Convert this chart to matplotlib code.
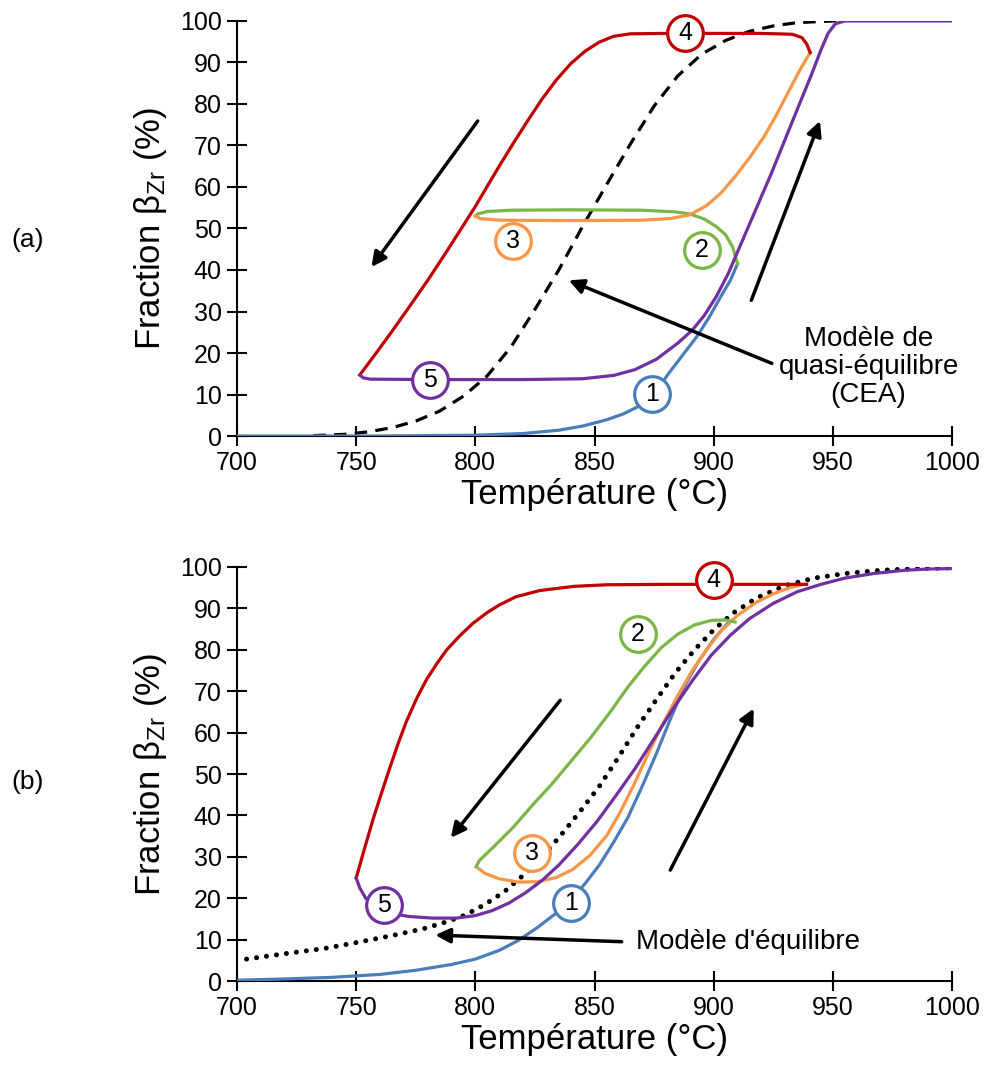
import numpy as np
import matplotlib
matplotlib.use("Agg")
import matplotlib.pyplot as plt

plt.rcParams['font.family'] = ['Liberation Sans', 'DejaVu Sans']
plt.rcParams['mathtext.fontset'] = 'custom'
plt.rcParams['mathtext.rm'] = 'Liberation Sans'
plt.rcParams['mathtext.it'] = 'Liberation Sans'

BLUE = "#4A7EBB"
GREEN = "#7AB648"
ORANGE = "#F79646"
RED = "#C00000"
PURPLE = "#7030A0"

# ---------------- (a) donnees ----------------
a1_T = [700, 760, 800, 820, 835, 845, 855, 862, 868, 875, 881, 887, 893, 898, 903, 907, 910]
a1_f = [0, 0, 0.2, 0.6, 1.4, 2.4, 3.9, 5.3, 7.0, 10.0, 15.0, 19.5, 24, 28.5, 33.6, 37.5, 41.5]

a2_T = [910, 908, 905, 901, 896, 890, 884, 870, 840, 815, 805, 801, 800]
a2_f = [41.5, 45.5, 48.5, 50.5, 52.3, 53.5, 54.0, 54.4, 54.5, 54.4, 54.1, 53.5, 53.0]

a3_T = [800, 802, 810, 840, 870, 882, 890, 897, 903, 909, 915, 921, 926, 931, 936, 940.5]
a3_f = [53, 52.4, 52.0, 51.9, 52.0, 52.4, 53.3, 55.5, 58.5, 62.5, 67, 72, 77, 82.5, 88, 92.4]

a4_T = [940.5, 939, 937, 933, 920, 880, 865, 858, 852, 846, 840, 834, 828, 822, 816,
        810, 804, 800, 795, 788, 780, 772, 765, 758, 751.5]
a4_f = [92.4, 94.5, 96, 96.8, 97, 97, 96.9, 96.3, 94.9, 92.7, 89.7, 85.8, 81.2, 76.0, 70.6,
        65.0, 59.2, 55.3, 50.8, 44.5, 37.5, 30.9, 25.2, 19.7, 14.7]

a5_T = [751.5, 753, 756, 780, 820, 845, 858, 867, 876, 885, 891, 896, 901, 906, 912,
        918, 924, 930, 936, 941, 945, 948, 951, 955, 1000]
a5_f = [14.7, 14.0, 13.7, 13.6, 13.6, 13.8, 14.6, 16.0, 18.5, 22.4, 25.5, 29.0, 33.5, 39, 47,
        55, 63, 71.5, 80, 87, 93, 97, 99.3, 100, 100]

aeq_T = [732, 745, 755, 765, 775, 785, 795, 805, 815, 825, 835, 845, 855, 865, 875,
         885, 895, 905, 915, 925, 935, 950, 955]
aeq_f = [0.1, 0.4, 1.0, 2.0, 3.6, 6.0, 9.6, 14.5, 21.5, 30.5, 40.0, 50.5, 60.5, 70.3, 79.5,
         86.8, 92.0, 95.3, 97.5, 98.8, 99.6, 100, 100]

# ---------------- (b) donnees ----------------
b1_T = [700, 720, 740, 760, 775, 790, 800, 810, 818, 826, 833, 840, 846, 852, 858,
        864, 870, 876, 882, 888, 894, 900, 906]
b1_f = [0.2, 0.5, 0.9, 1.6, 2.6, 4.0, 5.3, 7.4, 9.8, 12.9, 16.0, 19.5, 23.5, 28, 33.5,
        39.5, 47, 55, 63.5, 71.5, 77.5, 82.5, 86.5]

b2_T = [800.4, 801.5, 808, 816, 824, 832, 840, 848, 856, 864, 871, 878, 885, 892, 899, 905, 909]
b2_f = [27.6, 29.0, 32.6, 37.2, 42.5, 47.5, 53.0, 58.5, 64.5, 71.0, 76.0, 80.5, 83.8, 86.0,
        87.1, 87.2, 86.7]

b3_T = [800.4, 804, 810, 818, 826, 834, 841, 848, 855, 861, 867, 873, 879, 885, 891,
        897, 903, 910, 918, 925, 932, 938]
b3_f = [27.6, 26.0, 24.7, 23.9, 24.0, 25.0, 27.0, 30.3, 35.0, 41, 48, 55.5, 62.5, 69, 75,
        80, 84.5, 88.3, 91.5, 93.5, 95, 95.8]

b4_T = [939, 910, 880, 855, 841, 827, 817, 810, 805, 799, 793.5, 788, 784, 779.6, 775.5,
        771, 767.5, 764, 760.5, 757, 753.5, 750]
b4_f = [95.8, 95.8, 95.8, 95.7, 95.3, 94.3, 92.8, 90.8, 89.0, 86.4, 83.4, 80.0, 76.8, 72.9,
        68.4, 62.6, 57.2, 51.3, 45.2, 38.9, 32.0, 24.9]

b5_T = [750, 751.5, 754, 758, 764, 772, 782, 792, 800, 807, 814, 821, 828, 835, 843,
        851, 859, 867, 875, 883, 891, 899, 907, 915, 925, 935, 945, 955, 967, 980, 990, 1000]
b5_f = [24.9, 22.5, 20.0, 18.0, 16.4, 15.6, 15.2, 15.2, 15.8, 17.0, 18.8, 21.3, 24.3, 28.0, 33.0,
        38.5, 44.8, 51.3, 58.5, 65.8, 72.5, 78.7, 83.5, 87.5, 91.2, 94.0, 95.8, 97.3, 98.4, 99.2,
        99.5, 99.6]

beq_T = [704, 720, 737, 752, 766, 778, 788, 796, 804, 812, 820, 828, 836, 844, 852,
         860, 868, 876, 884, 892, 900, 908, 918, 930, 942, 955, 970, 985, 1000]
beq_f = [5.3, 6.6, 7.9, 9.5, 11.1, 12.6, 14.3, 16.0, 18.5, 21.5, 25.5, 30, 35.3, 41, 47,
         54, 61.3, 68, 74.5, 80, 84.8, 88.8, 92.5, 95.5, 97.3, 98.4, 99.2, 99.6, 99.8]

# etiquettes numerotees (T, f)
a_labels = {"1": (874.3, 10.1), "2": (895, 44.7), "3": (815.8, 46.9), "4": (888, 97), "5": (780.8, 13.5)}
b_labels = {"1": (840.3, 18.8), "2": (868.3, 83.7), "3": (823.6, 30.9), "4": (900, 96.8), "5": (761.5, 18.4)}
label_colors = {"1": BLUE, "2": GREEN, "3": ORANGE, "4": RED, "5": PURPLE}

fig = plt.figure(figsize=(9.86, 10.75), dpi=100)
ax_a = fig.add_axes([0.2404, 0.5944, 0.7251, 0.3861])
ax_b = fig.add_axes([0.2404, 0.0874, 0.7251, 0.3852])

lw = 2.3


def style_axes(ax):
    ax.set_xlim(700, 1000)
    ax.set_ylim(0, 100)
    ax.set_xticks(np.arange(700, 1001, 50))
    ax.set_yticks(np.arange(0, 101, 10))
    ax.spines['top'].set_visible(False)
    ax.spines['right'].set_visible(False)
    for s in ['left', 'bottom']:
        ax.spines[s].set_linewidth(1.5)
    ax.tick_params(direction='inout', length=14, width=1.5, labelsize=18, pad=4)
    ax.set_xlabel("Température (°C)", fontsize=25, labelpad=2)
    ax.set_ylabel("Fraction β$_{\\mathrm{Zr}}$ (%)", fontsize=25, labelpad=8)


def circ(ax, labels):
    for k, (t, f) in labels.items():
        ax.scatter([t], [f], s=660, facecolor='white', edgecolor=label_colors[k],
                   linewidth=2.3, zorder=5, clip_on=False)
        ax.text(t, f, k, ha='center', va='center', fontsize=18, zorder=6)


def arrow(ax, x0, y0, x1, y1):
    ax.annotate("", xy=(x1, y1), xytext=(x0, y0),
                arrowprops=dict(arrowstyle='-|>', color='black', lw=2.5, mutation_scale=22,
                                shrinkA=0, shrinkB=0))


# ---- (a)
ax = ax_a
ax.plot(aeq_T, aeq_f, color='black', lw=2.3, linestyle=(0, (3.9, 2.6)), zorder=2)
ax.plot(a1_T, a1_f, color=BLUE, lw=lw, zorder=3)
ax.plot(a2_T, a2_f, color=GREEN, lw=lw, zorder=3)
ax.plot(a3_T, a3_f, color=ORANGE, lw=lw, zorder=3)
ax.plot(a4_T, a4_f, color=RED, lw=lw, zorder=3)
ax.plot(a5_T, a5_f, color=PURPLE, lw=lw, zorder=3)
style_axes(ax)
circ(ax, a_labels)
arrow(ax, 801, 75.9, 756.4, 40.7)
arrow(ax, 915.8, 32.7, 944.6, 75.9)
arrow(ax, 924.4, 17.5, 839.2, 37.5)
ax.text(965, 16.7, "Modèle de\nquasi-équilibre\n(CEA)", ha='center', va='center',
        fontsize=20, linespacing=1.1)
fig.text(28 / 986, 1 - 240 / 1075, "(a)", ha='center', va='center', fontsize=19)

# ---- (b)
ax = ax_b
ax.plot(beq_T, beq_f, color='black', lw=3.6, linestyle=(0, (0.01, 2.0)),
        dash_capstyle='round', zorder=2)
ax.plot(b1_T, b1_f, color=BLUE, lw=lw, zorder=3)
ax.plot(b3_T, b3_f, color=ORANGE, lw=lw, zorder=3)
ax.plot(b2_T, b2_f, color=GREEN, lw=lw, zorder=3)
ax.plot(b4_T, b4_f, color=RED, lw=lw, zorder=3)
ax.plot(b5_T, b5_f, color=PURPLE, lw=lw, zorder=3)
style_axes(ax)
circ(ax, b_labels)
arrow(ax, 835.6, 67.8, 789.7, 34.6)
arrow(ax, 881.8, 26.8, 916.8, 65.8)
arrow(ax, 861.4, 9.5, 783.2, 11.1)
ax.text(867.5, 9.5, "Modèle d'équilibre", ha='left', va='center', fontsize=20)
fig.text(28 / 986, 1 - 782 / 1075, "(b)", ha='center', va='center', fontsize=19)

fig.savefig("out.png", dpi=100)
